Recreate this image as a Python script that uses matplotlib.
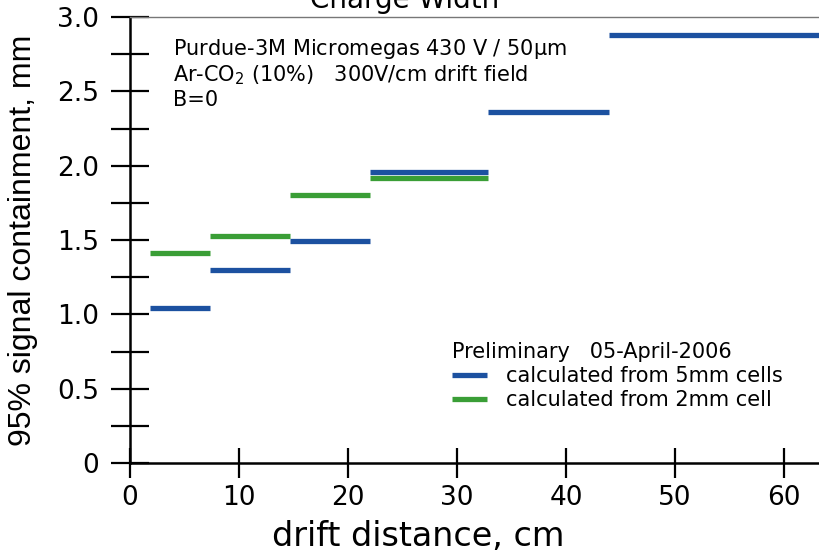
import matplotlib
matplotlib.use('Agg')
import matplotlib.pyplot as plt
from matplotlib.ticker import MultipleLocator

plt.rcParams['font.family'] = ['DejaVu Sans']

# bin edges in drift distance (cm)
edges_5mm = [1.8, 7.3, 14.7, 22.0, 32.8, 43.9, 66.0]
vals_5mm = [1.04, 1.30, 1.49, 1.96, 2.36, 2.88]

edges_2mm = [1.8, 7.3, 14.7, 22.0, 32.8]
vals_2mm = [1.41, 1.53, 1.80, 1.92]

ytick_vals = [0, 0.5, 1.0, 1.5, 2.0, 2.5, 3.0]
ytick_labels = ['0', '0.5', '1.0', '1.5', '2.0', '2.5', '3.0']

blue = '#1c51a0'
green = '#3a9e36'

fig = plt.figure(figsize=(8.19, 5.54), dpi=100)
ax = fig.add_axes([130 / 819, 1 - 463 / 554, 1 - 130 / 819, (463 - 17) / 554])

ax.hlines(vals_5mm, edges_5mm[:-1], edges_5mm[1:], color=blue, lw=3.8,
          label='calculated from 5mm cells', zorder=3)
ax.hlines(vals_2mm, edges_2mm[:-1], edges_2mm[1:], color=green, lw=3.8,
          label='calculated from 2mm cell', zorder=2)

ax.set_xlim(0, 63.2)
ax.set_ylim(0, 3.0)
ax.xaxis.set_major_locator(MultipleLocator(10))
ax.set_yticks(ytick_vals)
ax.set_yticklabels(ytick_labels)
ax.yaxis.set_minor_locator(MultipleLocator(0.25))

ax.tick_params(axis='y', which='both', direction='inout', length=28, width=1.6,
               labelsize=19, pad=8)
ax.tick_params(axis='x', which='major', direction='inout', length=22, width=1.6,
               labelsize=19, pad=5)

for s in ['left', 'bottom']:
    ax.spines[s].set_linewidth(1.8)
ax.spines['right'].set_visible(False)
ax.spines['top'].set_color('#777777')
ax.spines['top'].set_linewidth(1.0)

ax.set_xlabel('drift distance, cm', fontsize=24)
ax.xaxis.set_label_coords(0.419, -0.128)
ax.set_ylabel('95% signal containment, mm', fontsize=23, labelpad=14,
              family='Liberation Sans')

ax.text(3.9, 2.62, 'Purdue-3M Micromegas 430 V / 50$\\mathregular{\\mu}$m\n'
        'Ar-CO$_\\mathregular{2}$ (10%)   300V/cm drift field\nB=0',
        fontsize=15, va='center', ha='left', linespacing=1.15)

leg = ax.legend(loc='upper left', bbox_to_anchor=(28.6, 0.884),
                bbox_transform=ax.transData, frameon=False, borderpad=0,
                title='Preliminary   05-April-2006', fontsize=15,
                title_fontsize=15, handlelength=1.65, handletextpad=0.95,
                labelspacing=0.2, alignment='left')

fig.text(405 / 819, 1 - 8 / 554, 'Charge Width', fontsize=20, ha='center',
         va='baseline')

fig.savefig('out.png', dpi=100)
